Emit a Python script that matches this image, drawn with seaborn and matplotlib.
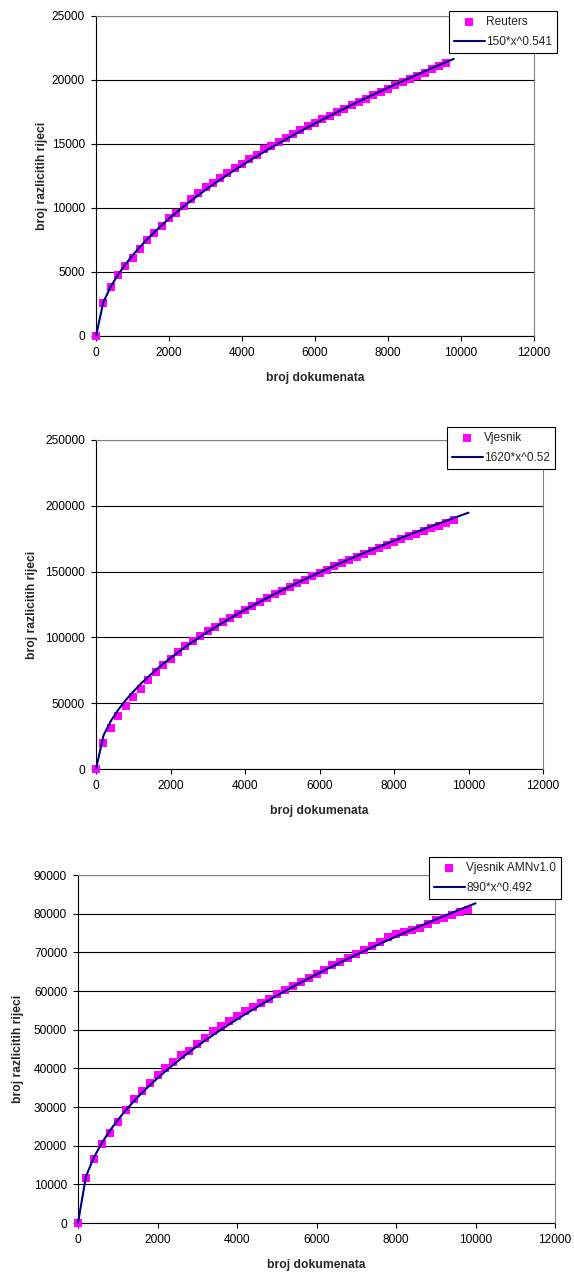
import matplotlib
matplotlib.use("Agg")
import matplotlib.pyplot as plt
import seaborn as sns
from matplotlib.ticker import StrMethodFormatter

sns.set_style("white")
plt.rcParams["font.family"] = ["Liberation Sans", "DejaVu Sans"]

# ---- data -------------------------------------------------------------
docs_reuters = [0, 200, 400, 600, 800, 1000, 1200, 1400, 1600, 1800, 2000,
                2200, 2400, 2600, 2800, 3000, 3200, 3400, 3600, 3800, 4000,
                4200, 4400, 4600, 4800, 5000, 5200, 5400, 5600, 5800, 6000,
                6200, 6400, 6600, 6800, 7000, 7200, 7400, 7600, 7800, 8000,
                8200, 8400, 8600, 8800, 9000, 9200, 9400, 9600]
words_reuters = [0, 2560, 3860, 4740, 5440, 6120, 6820, 7500, 8020, 8590,
                 9190, 9630, 10180, 10700, 11150, 11670, 11980, 12340, 12710,
                 13100, 13410, 13830, 14160, 14610, 14870, 15180, 15450,
                 15750, 16080, 16380, 16650, 16950, 17220, 17500, 17760,
                 18030, 18280, 18540, 18820, 19080, 19330, 19590, 19830,
                 20080, 20330, 20580, 20830, 21080, 21330]

docs_vjesnik = list(docs_reuters)
words_vjesnik = [0, 19530, 31380, 40040, 48100, 54940, 61020, 67860, 73700,
                 79260, 83810, 88900, 93240, 97040, 100840, 104600, 108000,
                 111400, 114600, 117800, 120900, 123900, 126900, 129800,
                 132700, 135500, 138300, 141000, 143700, 146300, 148900,
                 151400, 153900, 156300, 158700, 161100, 163400, 165700,
                 168000, 170200, 172400, 174600, 176700, 178800, 180900,
                 182900, 185000, 187000, 189000]

docs_amn = docs_reuters + [9800]
words_amn = [0, 11620, 16520, 20390, 23230, 26160, 29250, 32010, 34070,
             36140, 38290, 40180, 41730, 43450, 44570, 46290, 47900, 49600,
             51000, 52300, 53500, 54700, 55800, 56900, 58000, 59100, 60200,
             61200, 62300, 63400, 64400, 65500, 66600, 67600, 68600, 69600,
             70600, 71600, 72700, 74000, 74700, 75300, 75900, 76400, 77400,
             78300, 79000, 79700, 80400, 81000]

# power-law fits y = a * x^b, drawn at the same document counts
fit_docs_reuters = docs_reuters + [9800]
fit_docs_vjesnik = docs_reuters + [9800, 10000]
fit_docs_amn = docs_amn + [10000]
fit_reuters = (150, 0.541)
fit_vjesnik = (1620, 0.52)
fit_amn = (890, 0.492)

series_names = ["Reuters", "Vjesnik", "Vjesnik AMNv1.0"]
fit_labels = ["150*x^0.541", "1620*x^0.52", "890*x^0.492"]
x_ticks = [0, 2000, 4000, 6000, 8000, 10000, 12000]
y_ticks_reuters = [0, 5000, 10000, 15000, 20000, 25000]
y_ticks_vjesnik = [0, 50000, 100000, 150000, 200000, 250000]
y_ticks_amn = [0, 10000, 20000, 30000, 40000, 50000, 60000, 70000, 80000, 90000]

# ---- layout (pixels in a 574 x 1276 canvas) ---------------------------
W, H = 574, 1276
panels = [
    dict(docs=docs_reuters, words=words_reuters, fdocs=fit_docs_reuters,
         fit=fit_reuters, name=series_names[0], flabel=fit_labels[0],
         yticks=y_ticks_reuters, box=(96, 16, 534, 336), leg=(449, 11),
         ylab_x=47.5),
    dict(docs=docs_vjesnik, words=words_vjesnik, fdocs=fit_docs_vjesnik,
         fit=fit_vjesnik, name=series_names[1], flabel=fit_labels[1],
         yticks=y_ticks_vjesnik, box=(96, 440, 543, 769), leg=(447, 427),
         ylab_x=38),
    dict(docs=docs_amn, words=words_amn, fdocs=fit_docs_amn,
         fit=fit_amn, name=series_names[2], flabel=fit_labels[2],
         yticks=y_ticks_amn, box=(78, 875, 555, 1223), leg=(429, 857),
         ylab_x=24),
]

fig = plt.figure(figsize=(W / 100, H / 100), dpi=100)
fig.patch.set_facecolor("white")

for p in panels:
    x0, y0, x1, y1 = p["box"]
    ax = fig.add_axes([x0 / W, 1 - y1 / H, (x1 - x0) / W, (y1 - y0) / H])

    sns.scatterplot(x=p["docs"], y=p["words"], marker="s", s=32,
                    color="#FF00FF", linewidth=0, ax=ax, label=p["name"],
                    clip_on=False, zorder=3)
    a, b = p["fit"]
    fit_y = [a * d ** b for d in p["fdocs"]]
    sns.lineplot(x=p["fdocs"], y=fit_y, color="#000080", linewidth=1.5,
                 ax=ax, label=p["flabel"], zorder=4, clip_on=False)

    ax.set_xlim(0, 12000)
    ax.set_ylim(0, p["yticks"][-1])
    ax.set_xticks(x_ticks)
    ax.set_yticks(p["yticks"])
    ax.xaxis.set_major_formatter(StrMethodFormatter("{x:.0f}"))
    ax.yaxis.set_major_formatter(StrMethodFormatter("{x:.0f}"))

    ax.grid(False)
    ax.yaxis.grid(True, color="black", linewidth=0.8)
    ax.set_axisbelow(True)
    for side in ("left", "bottom"):
        ax.spines[side].set_color("black")
        ax.spines[side].set_linewidth(0.8)
    for side in ("top", "right"):
        ax.spines[side].set_color("#808080")
        ax.spines[side].set_linewidth(0.8)
        ax.spines[side].set_zorder(2.6)

    ax.tick_params(axis="both", which="major", direction="out", length=3.6,
                   width=0.8, color="black", labelsize=8.6, pad=4.3,
                   bottom=True, left=True, labelcolor="black")

    ax.set_xlabel("broj dokumenata", fontweight="bold", fontsize=8.7)
    ax.set_ylabel("broj razlicitih rijeci", fontweight="bold", fontsize=8.7)
    ax.xaxis.set_label_coords(0.5, (y1 - (y1 + 36)) / (y1 - y0))
    ax.yaxis.set_label_coords((p["ylab_x"] - x0) / (x1 - x0), 0.5)

    lx, ly = p["leg"]
    leg = ax.legend([ax.collections[0], ax.lines[0]],
                    [p["name"], p["flabel"]],
                    loc="upper left", bbox_to_anchor=(lx / W, 1 - ly / H),
                    bbox_transform=fig.transFigure, frameon=True,
                    fancybox=False, shadow=False, framealpha=1,
                    borderpad=0.4, labelspacing=0.7, handlelength=2.6,
                    handletextpad=0.12, borderaxespad=0, fontsize=8.6,
                    scatterpoints=1)
    leg.get_frame().set_edgecolor("black")
    leg.get_frame().set_linewidth(0.8)
    leg.get_frame().set_facecolor("white")

fig.savefig("out.png", dpi=100)
